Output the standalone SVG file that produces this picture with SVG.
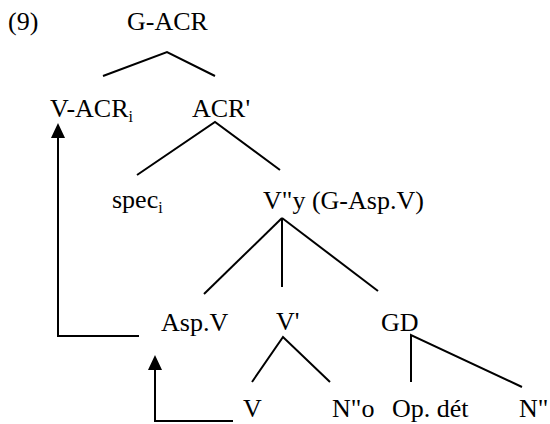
<svg xmlns="http://www.w3.org/2000/svg" width="550" height="424" viewBox="0 0 550 424">
  <style>
    text { font-family: "Times New Roman", Times, "Liberation Serif", "DejaVu Serif", serif; font-size: 26px; fill: #000; }
    .sub { font-size: 16px; }
    .edge { stroke: #000; stroke-width: 2; fill: none; stroke-linejoin: miter; }
  </style>
  <defs>
    <marker id="arrow" viewBox="0 0 15 14" refX="0" refY="7" markerWidth="15" markerHeight="14" markerUnits="userSpaceOnUse" orient="auto">
      <path d="M0,0 L15,7 L0,14 z" fill="#000"/>
    </marker>
  </defs>
  <rect width="550" height="424" fill="#fff"/>

  <g id="label-9"><text x="8" y="30">(9)</text></g>
  <g id="n-GACR"><text x="127" y="30">G-ACR</text></g>
  <g id="n-VACR"><text x="50" y="117">V-ACR<tspan class="sub" dy="5">i</tspan></text></g>
  <g id="n-ACRbar"><text x="192" y="117">ACR'</text></g>
  <g id="n-spec"><text x="112" y="208">spec<tspan class="sub" dy="5">i</tspan></text></g>
  <g id="n-Vy"><text x="263" y="209">V"y (G-Asp.V)</text></g>
  <g id="n-AspV"><text x="161" y="331">Asp.V</text></g>
  <g id="n-Vbar"><text x="276" y="330">V'</text></g>
  <g id="n-GD"><text x="381" y="331">GD</text></g>
  <g id="n-V"><text x="243" y="417">V</text></g>
  <g id="n-No"><text x="332" y="417">N"o</text></g>
  <g id="n-Opdet"><text x="392" y="417">Op. dét</text></g>
  <g id="n-N"><text x="519" y="417">N"</text></g>

  <g id="connectors">
    <polyline class="edge" points="103,76 167,52 215,76"/>
    <polyline class="edge" points="137,175 215,122 280,170"/>
    <line class="edge" x1="282" y1="218" x2="204" y2="294"/>
    <line class="edge" x1="282" y1="218" x2="282" y2="287"/>
    <line class="edge" x1="282" y1="218" x2="378" y2="291"/>
    <polyline class="edge" points="252,382 283,337 330,382"/>
    <polyline class="edge" points="411,382 411,335 522,387"/>
    <polyline class="edge" points="139,336 58,336 58,138" marker-end="url(#arrow)"/>
    <polyline class="edge" points="233,421 155,421 155,370" marker-end="url(#arrow)"/>
  </g>
</svg>
